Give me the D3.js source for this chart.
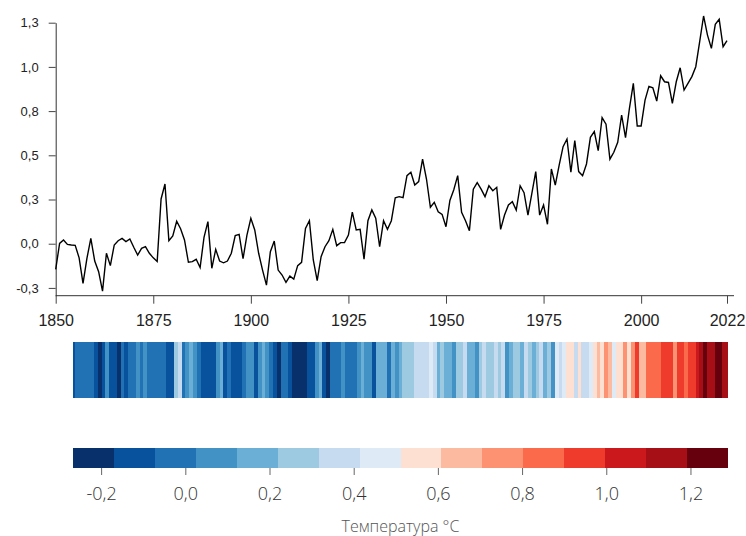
<!DOCTYPE html>
<html>
<head>
<meta charset="utf-8">
<script src="https://cdn.jsdelivr.net/npm/d3@7"></script>
<style>
  body { margin: 0; background: #fff; }
  svg { font-family: "Open Sans", "Noto Sans", sans-serif; }
</style>
</head>
<body>
<svg></svg>
<script>
const size = {w: 746, h: 536};

// years 1850..2022
const years = d3.range(1850, 2023);

// temperature anomaly per year
const temps = [
  -0.145, 0.002, 0.021, -0.004, -0.007, -0.009, -0.080, -0.224, -0.083, 0.030,   // 1850s
  -0.098, -0.158, -0.268, -0.054, -0.124, -0.007, 0.017, 0.030, 0.012, 0.027,    // 1860s
  -0.020, -0.064, -0.026, -0.017, -0.054, -0.080, -0.101, 0.253, 0.338, 0.017,   // 1870s
  0.044, 0.127, 0.085, 0.021, -0.105, -0.101, -0.088, -0.135, 0.036, 0.125,      // 1880s
  -0.139, -0.032, -0.098, -0.108, -0.098, -0.054, 0.046, 0.053, -0.085, 0.049,   // 1890s
  0.144, 0.078, -0.054, -0.149, -0.234, -0.045, 0.015, -0.149, -0.177, -0.219,   // 1900s
  -0.183, -0.200, -0.124, -0.105, 0.087, 0.130, -0.092, -0.209, -0.073, -0.017,  // 1910s
  0.017, 0.081, -0.011, 0.006, 0.006, 0.049, 0.179, 0.078, 0.081, -0.087,        // 1920s
  0.130, 0.191, 0.144, -0.017, 0.130, 0.081, 0.130, 0.260, 0.266, 0.260,         // 1930s
  0.385, 0.404, 0.332, 0.351, 0.479, 0.366, 0.206, 0.234, 0.181, 0.166,          // 1940s
  0.096, 0.245, 0.305, 0.385, 0.177, 0.130, 0.074, 0.308, 0.345, 0.309,          // 1950s
  0.266, 0.328, 0.300, 0.319, 0.081, 0.162, 0.219, 0.238, 0.190, 0.328,          // 1960s
  0.289, 0.162, 0.285, 0.408, 0.162, 0.219, 0.110, 0.423, 0.332, 0.445,          // 1970s
  0.549, 0.592, 0.404, 0.583, 0.408, 0.385, 0.451, 0.602, 0.634, 0.526,          // 1980s
  0.713, 0.676, 0.478, 0.517, 0.574, 0.728, 0.600, 0.766, 0.907, 0.666,          // 1990s
  0.666, 0.812, 0.890, 0.882, 0.807, 0.950, 0.916, 0.912, 0.794, 0.916,          // 2000s
  0.995, 0.869, 0.907, 0.945, 1.001, 1.143, 1.288, 1.180, 1.105, 1.241,          // 2010s
  1.269, 1.114, 1.148                                                              // 2020s
];

const xTicks = [1850, 1875, 1900, 1925, 1950, 1975, 2000, 2022];
const yTicks = [-0.25, 0, 0.25, 0.5, 0.75, 1.0, 1.25];
const yDomain = [-0.294, 1.25];
const legendTicks = [-0.2, 0, 0.2, 0.4, 0.6, 0.8, 1.0, 1.2];
const stripeColors = ['#08306b', '#08519c', '#2171b5', '#4292c6', '#6baed6', '#9ecae1', '#c6dbef', '#deebf7',
                      '#fee0d2', '#fcbba1', '#fc9272', '#fb6a4a', '#ef3b2c', '#cb181d', '#a50f15', '#67000d'];

const data = years.map((y, i) => ({year: y, temp: temps[i]}));

// comma decimals, plain hyphen minus
const locale = d3.formatLocale({decimal: ',', thousands: ' ', grouping: [3], currency: ['', ''], minus: '-'});
const fmt = locale.format('.1f');

const svg = d3.select('svg')
    .attr('width', size.w)
    .attr('height', size.h);

// ---------- LINE CHART ----------
const x = d3.scaleLinear().domain([1850, 2022]).range([55.7, 727]);
const y = d3.scaleLinear().domain(yDomain).range([295.7, 22.7]);

const xAxisG = svg.append('g')
    .attr('transform', 'translate(0,295.7)')
    .call(d3.axisBottom(x).tickValues(xTicks).tickFormat(d3.format('d')).tickSize(8).tickPadding(11).tickSizeOuter(0));

// axis baseline runs a few px past the last year
xAxisG.select('.domain').attr('d', `M${x.range()[0]},0H${x.range()[1] + 7}`);

const yAxisG = svg.append('g')
    .attr('transform', 'translate(55.7,0)')
    .call(d3.axisLeft(y).tickValues(yTicks).tickFormat(fmt).tickSize(7).tickPadding(10).tickSizeOuter(0));

xAxisG.selectAll('text').attr('font-size', 16).attr('fill', '#222');
yAxisG.selectAll('text').attr('font-size', 13).attr('fill', '#222');
svg.selectAll('.domain').attr('stroke', '#333');
svg.selectAll('.tick line').attr('stroke', '#444');

const line = d3.line()
    .x(d => x(d.year))
    .y(d => y(d.temp));

svg.append('path')
    .datum(data)
    .attr('fill', 'none')
    .attr('stroke', '#000')
    .attr('stroke-width', 1.4)
    .attr('d', line);

// ---------- STRIPES ----------
const color = d3.scaleQuantize()
    .domain(d3.extent(temps))
    .range(stripeColors);

const sx = d3.scaleLinear().domain([1850, 2022]).range([73, 728]).clamp(true);

svg.append('g').selectAll('rect')
    .data(data)
    .join('rect')
    .attr('x', d => sx(d.year - 0.5))
    .attr('width', d => sx(d.year + 0.5) - sx(d.year - 0.5) + 0.3)
    .attr('y', 342)
    .attr('height', 56)
    .attr('fill', d => color(d.temp))
    .attr('shape-rendering', 'crispEdges');

// ---------- LEGEND ----------
const lx = d3.scaleLinear().domain(d3.extent(temps)).range([73, 728]);
const bins = [lx.domain()[0], ...color.thresholds(), lx.domain()[1]];

const legendG = svg.append('g');
legendG.selectAll('rect')
    .data(stripeColors)
    .join('rect')
    .attr('x', (c, i) => lx(bins[i]))
    .attr('width', (c, i) => lx(bins[i + 1]) - lx(bins[i]) + 0.3)
    .attr('y', 448)
    .attr('height', 20)
    .attr('fill', c => c)
    .attr('shape-rendering', 'crispEdges');

legendG.selectAll('line')
    .data(legendTicks)
    .join('line')
    .attr('x1', d => lx(d))
    .attr('x2', d => lx(d))
    .attr('y1', 468)
    .attr('y2', 475)
    .attr('stroke', '#666');

legendG.selectAll('text.lbl')
    .data(legendTicks)
    .join('text')
    .classed('lbl', true)
    .attr('x', d => lx(d))
    .attr('y', 500)
    .attr('text-anchor', 'middle')
    .attr('font-size', 18)
    .attr('font-weight', 300)
    .attr('fill', '#333')
    .text(d => fmt(d));

svg.append('text')
    .attr('x', 400.5)
    .attr('y', 532)
    .attr('text-anchor', 'middle')
    .attr('font-size', 16)
    .attr('font-weight', 300)
    .attr('fill', '#555')
    .text('Температура °C');
</script>
</body>
</html>
